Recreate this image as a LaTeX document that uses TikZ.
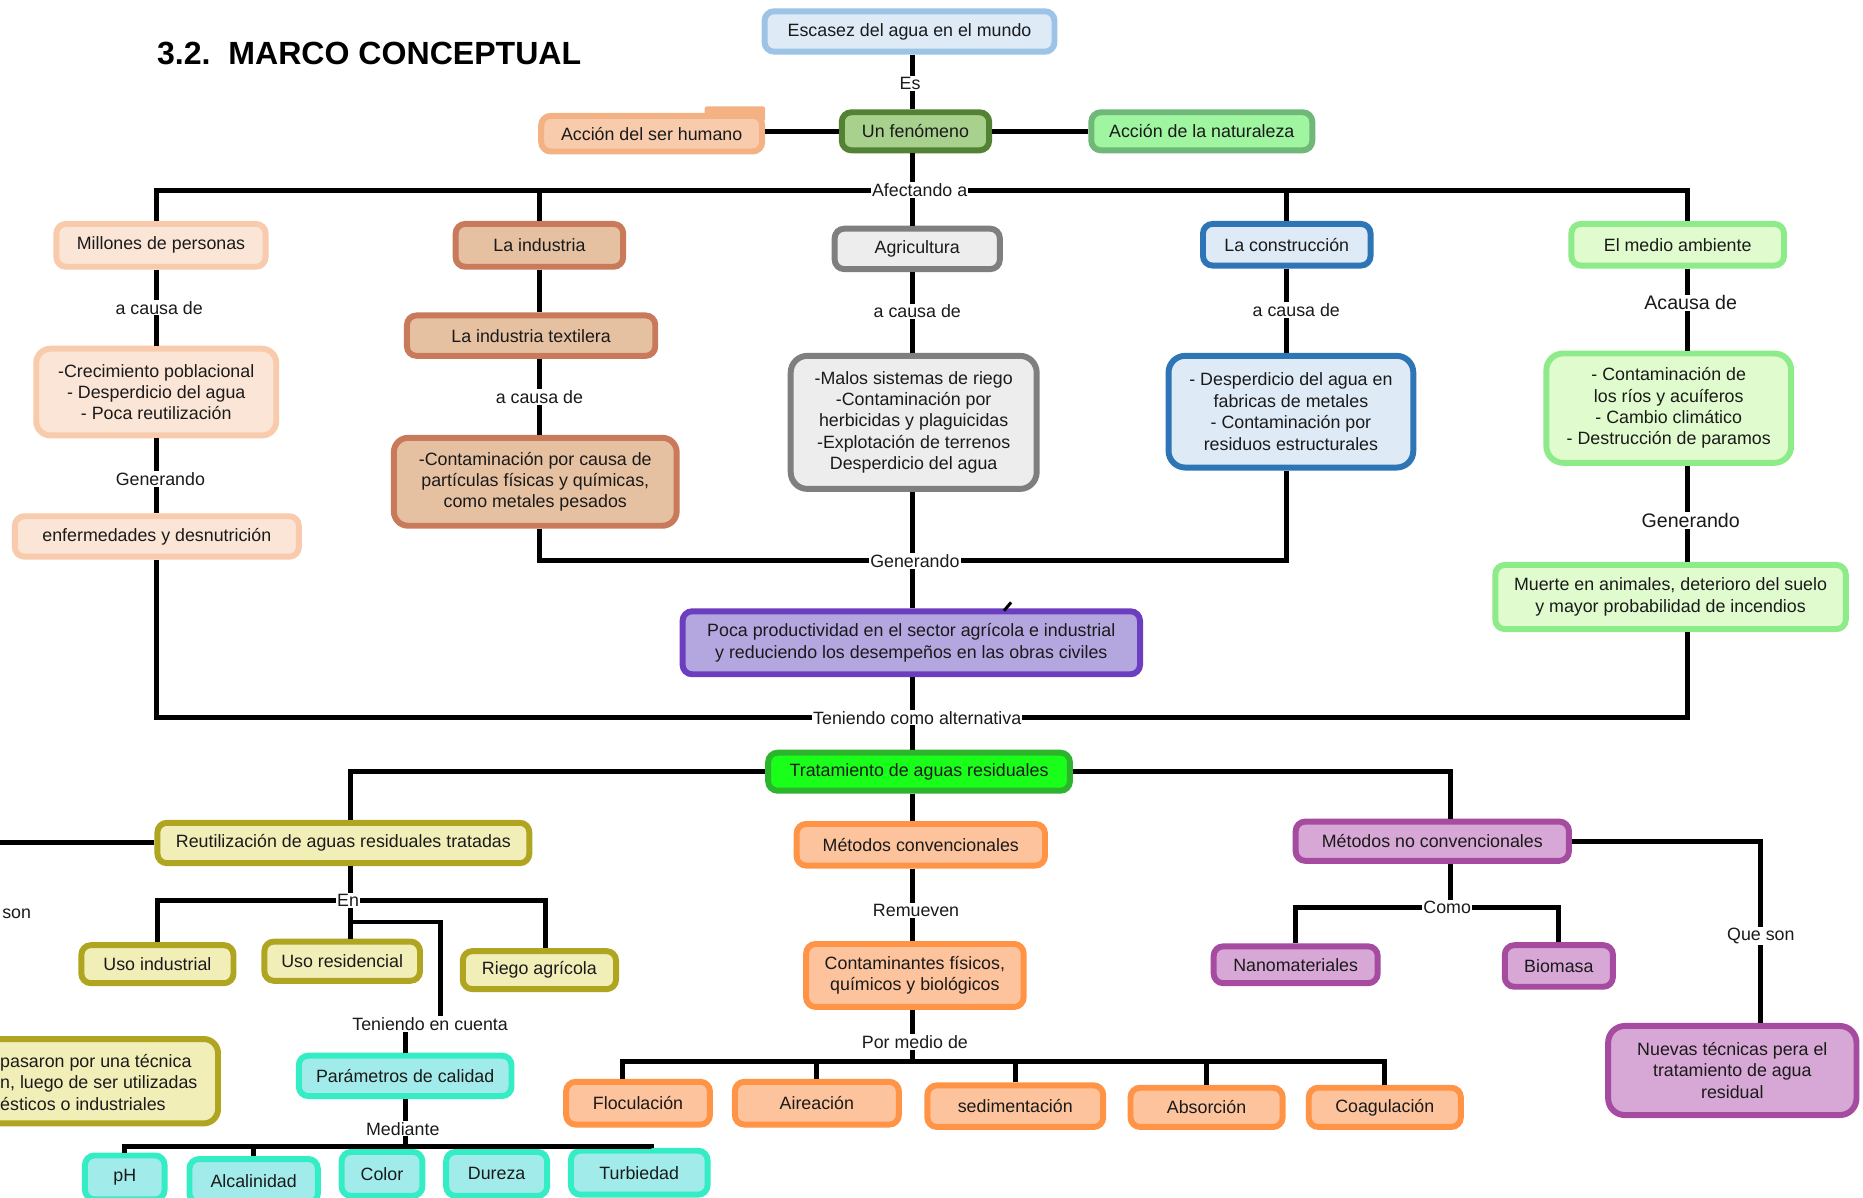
\documentclass[tikz,border=0pt]{standalone}
\usepackage{fontspec}
\setmainfont{Liberation Sans}
\definecolor{txt}{HTML}{1A1A1A}
\definecolor{escF}{HTML}{DEEAF6}\definecolor{escD}{HTML}{9DC3E6}
\definecolor{fenF}{HTML}{A9D18E}\definecolor{fenD}{HTML}{548235}
\definecolor{humF}{HTML}{F8CBAD}\definecolor{humD}{HTML}{F4B183}
\definecolor{natF}{HTML}{A0F5A0}\definecolor{natD}{HTML}{70B878}
\definecolor{milF}{HTML}{FBE5D6}\definecolor{milD}{HTML}{F8CBAD}
\definecolor{indF}{HTML}{E6C1A1}\definecolor{indD}{HTML}{C87A5A}
\definecolor{agrF}{HTML}{EDEDED}\definecolor{agrD}{HTML}{7F7F7F}
\definecolor{conF}{HTML}{DEEAF6}\definecolor{conD}{HTML}{2E75B6}
\definecolor{medF}{HTML}{E0FBCE}\definecolor{medD}{HTML}{8EEB8A}
\definecolor{pocF}{HTML}{B4A7E0}\definecolor{pocD}{HTML}{6A3EBE}
\definecolor{traF}{HTML}{1AFF1A}\definecolor{traD}{HTML}{2DB42D}
\definecolor{reuF}{HTML}{F1EEB8}\definecolor{reuD}{HTML}{AFA521}
\definecolor{ornF}{HTML}{FCC39C}\definecolor{ornD}{HTML}{FF9447}
\definecolor{ncvF}{HTML}{D7A7D6}\definecolor{ncvD}{HTML}{A54BA0}
\definecolor{calF}{HTML}{A2EBEB}\definecolor{calD}{HTML}{35EDC4}
\newcommand\myfs{\fontsize{15}{18}\selectfont}
\newcommand\mybig{\fontsize{16.5}{19}\selectfont}
\begin{document}
\begin{tikzpicture}[x=1pt,y=-1pt,
  box/.style={draw, rounded corners=8pt, line width=5pt, align=center, inner sep=0pt, text=txt, font=\myfs},
  conn/.style={line width=4.2pt, draw=black},
  lbl/.style={fill=white, inner sep=1pt, text=txt, font=\myfs},
  lblbig/.style={fill=white, inner sep=1pt, text=txt, font=\mybig}]
\useasboundingbox (0,0) rectangle (1568,1008);
\fill[white] (0,0) rectangle (1568,1008);
\clip (0,0) rectangle (1568,1008);

% title
\node[anchor=west, inner sep=0pt, font=\fontsize{27}{30}\selectfont\bfseries, text=black] (title) at (132,45) {3.2.\ \ MARCO CONCEPTUAL};

% junction coordinates
\coordinate (jEs) at (768,70);
\coordinate (jAf) at (768,160);
\coordinate (jGen) at (768,472);
\coordinate (jTen) at (768,604);
\coordinate (xR) at (1420,604);
\coordinate (jEn) at (295,758);
\coordinate (xRiego) at (459,758);
\coordinate (jTc) at (371,776);
\coordinate (jMed) at (341,965);
\coordinate (xTurb) at (548,965);
\coordinate (jPor) at (768,893);
\coordinate (xFl) at (524,893);
\coordinate (jComo) at (1221,764);
\coordinate (jQue) at (1482,788);
\coordinate (jLeft) at (0,709);

% nodes
\node[box, fill=escF, draw=escD, minimum width=244pt, minimum height=34pt] (escasez) at (765.5,26.5) {Escasez del agua en el mundo};
\node[box, fill=fenF, draw=fenD, minimum width=124pt, minimum height=32pt] (fenomeno) at (770.5,110.5) {Un fenómeno};
\fill[humD, rounded corners=2pt] (593,89.5) rectangle (644,102);
\node[box, fill=humF, draw=humD, minimum width=186pt, minimum height=30pt] (humano) at (548.5,112.5) {Acción del ser humano};
\node[box, fill=natF, draw=natD, minimum width=186pt, minimum height=32pt] (naturaleza) at (1011.5,110.5) {Acción de la naturaleza};

\node[box, fill=milF, draw=milD, minimum width=176pt, minimum height=36pt] (millones) at (135.5,206.5) {Millones de personas};
\node[box, fill=indF, draw=indD, minimum width=141pt, minimum height=36pt] (industria) at (454,206.5) {La industria};
\node[box, fill=agrF, draw=agrD, minimum width=139pt, minimum height=34pt] (agricultura) at (772,209.5) {Agricultura};
\node[box, fill=conF, draw=conD, minimum width=141pt, minimum height=35pt] (construccion) at (1083,206) {La construcción};
\node[box, fill=medF, draw=medD, minimum width=179pt, minimum height=35pt] (medio) at (1412,206) {El medio ambiente};

\node[box, fill=milF, draw=milD, minimum width=202pt, minimum height=73pt, rounded corners=12pt] (millCaus) at (131.5,330) {-Crecimiento poblacional\\- Desperdicio del agua\\- Poca reutilización};
\node[box, fill=milF, draw=milD, minimum width=239pt, minimum height=34pt] (enferm) at (132,451.5) {enfermedades y desnutrición};
\node[box, fill=indF, draw=indD, minimum width=209pt, minimum height=34pt] (textil) at (447,282.5) {La industria textilera};
\node[box, fill=indF, draw=indD, minimum width=238pt, minimum height=74pt, rounded corners=12pt] (contam) at (450.5,405.5) {-Contaminación por causa de\\partículas físicas y químicas,\\como metales pesados};
\node[box, fill=agrF, draw=agrD, minimum width=207pt, minimum height=112pt, rounded corners=14pt] (agriCaus) at (769,355.5) {-Malos sistemas de riego\\-Contaminación por\\herbicidas y plaguicidas\\-Explotación de terrenos\\Desperdicio del agua};
\node[box, fill=conF, draw=conD, minimum width=206pt, minimum height=94pt, rounded corners=14pt] (constCaus) at (1086.5,346.5) {- Desperdicio del agua en\\fabricas de metales\\- Contaminación por\\residuos estructurales};
\node[box, fill=medF, draw=medD, minimum width=206pt, minimum height=92pt, rounded corners=14pt] (medioCaus) at (1404.5,343.5) {- Contaminación de\\los ríos y acuíferos\\- Cambio climático\\- Destrucción de paramos};
\node[box, fill=medF, draw=medD, minimum width=295pt, minimum height=54pt] (muerte) at (1406,502.5) {Muerte en animales, deterioro del suelo\\y mayor probabilidad de incendios};
\node[box, fill=pocF, draw=pocD, minimum width=385pt, minimum height=53pt] (poca) at (767,541) {Poca productividad en el sector agrícola e industrial\\y reduciendo los desempeños en las obras civiles};
\node[box, fill=traF, draw=traD, minimum width=254pt, minimum height=32pt] (trat) at (773.5,649.5) {Tratamiento de aguas residuales};

\node[box, fill=reuF, draw=reuD, minimum width=313pt, minimum height=34pt] (reutil) at (289,709.5) {Reutilización de aguas residuales tratadas};
\node[box, fill=reuF, draw=reuD, minimum width=128pt, minimum height=32pt] (usoind) at (132.5,811.5) {Uso industrial};
\node[box, fill=reuF, draw=reuD, minimum width=131pt, minimum height=33pt] (usores) at (288,809) {Uso residencial};
\node[box, fill=reuF, draw=reuD, minimum width=129pt, minimum height=32pt] (riego) at (454,816.5) {Riego agrícola};
\node[box, fill=reuF, draw=reuD, minimum width=331pt, minimum height=71pt, rounded corners=12pt] (leftbox) at (18,910) {};
\node[anchor=west, align=left, inner sep=0pt, font=\myfs, text=txt] (leftTxt) at (0,911) {pasaron por una técnica\\n, luego de ser utilizadas\\ésticos o industriales};

\node[box, fill=calF, draw=calD, minimum width=179pt, minimum height=34pt] (param) at (341,905.5) {Parámetros de calidad};
\node[box, fill=calF, draw=calD, minimum width=67pt, minimum height=37pt] (ph) at (105,991) {pH};
\node[box, fill=calF, draw=calD, minimum width=108pt, minimum height=37pt] (alcal) at (213.5,994) {Alcalinidad};
\node[box, fill=calF, draw=calD, minimum width=68pt, minimum height=37pt] (color) at (321.5,988) {Color};
\node[box, fill=calF, draw=calD, minimum width=85pt, minimum height=37pt] (dureza) at (418,988) {Dureza};
\node[box, fill=calF, draw=calD, minimum width=115pt, minimum height=37pt] (turb) at (538,987) {Turbiedad};

\node[box, fill=ornF, draw=ornD, minimum width=209pt, minimum height=35pt] (conv) at (775,711) {Métodos convencionales};
\node[box, fill=ornF, draw=ornD, minimum width=183pt, minimum height=53pt] (contamin) at (770,821) {Contaminantes físicos,\\químicos y biológicos};
\node[box, fill=ornF, draw=ornD, minimum width=121pt, minimum height=36pt] (flocul) at (537,928.5) {Floculación};
\node[box, fill=ornF, draw=ornD, minimum width=138pt, minimum height=36pt] (airea) at (687.5,928.5) {Aireación};
\node[box, fill=ornF, draw=ornD, minimum width=148pt, minimum height=35pt] (sedim) at (854.5,931) {sedimentación};
\node[box, fill=ornF, draw=ornD, minimum width=128pt, minimum height=33pt] (absor) at (1015.5,932) {Absorción};
\node[box, fill=ornF, draw=ornD, minimum width=128pt, minimum height=33pt] (coag) at (1165.5,932) {Coagulación};

\node[box, fill=ncvF, draw=ncvD, minimum width=230pt, minimum height=33pt] (noconv) at (1205.5,708) {Métodos no convencionales};
\node[box, fill=ncvF, draw=ncvD, minimum width=138pt, minimum height=31pt] (nano) at (1090.5,812) {Nanomateriales};
\node[box, fill=ncvF, draw=ncvD, minimum width=91pt, minimum height=35pt] (biomasa) at (1312,813) {Biomasa};
\node[box, fill=ncvF, draw=ncvD, minimum width=209pt, minimum height=75pt, rounded corners=14pt] (nuevas) at (1458,901) {Nuevas técnicas pera el\\tratamiento de agua\\residual};

\node[lbl] (lTc) at (362,862) {Teniendo en cuenta};

% connectors
\draw[conn] (escasez.south -| jEs) -- (fenomeno.north -| jEs);
\draw[conn] (fenomeno.west) -- (fenomeno.west -| humano.east);
\draw[conn] (fenomeno.east) -- (naturaleza.west);
\draw[conn] (fenomeno.south -| jAf) -- (agricultura.north -| jAf);
\draw[conn] (millones.north -| millCaus.north) |- (jAf) -| (medio.north -| xR);
\draw[conn] (industria.north) -- (industria.north |- jAf);
\draw[conn] (construccion.north) -- (construccion.north |- jAf);

\draw[conn] (millones.south -| millCaus.north) -- (millCaus.north);
\draw[conn] (millCaus.south) -- (millCaus.south |- enferm.north);
\draw[conn] (enferm.south -| millCaus.south) |- (jTen) -| (muerte.south -| xR);

\draw[conn] (industria.south) -- (industria.south |- textil.north);
\draw[conn] (textil.south -| industria.south) -- (contam.north -| industria.south);
\draw[conn] (contam.south -| industria.south) |- (jGen) -| (constCaus.south -| construccion.south);

\draw[conn] (agricultura.south -| jAf) -- (agriCaus.north -| jAf);
\draw[conn] (agriCaus.south -| jAf) -- (poca.north -| jAf);
\draw[conn] (construccion.south) -- (constCaus.north -| construccion.south);
\draw[conn] (medio.south -| xR) -- (medioCaus.north -| xR);
\draw[conn] (medioCaus.south -| xR) -- (muerte.north -| xR);
\draw[line width=2.5pt] (845,514) -- (851,507);

\draw[conn] (poca.south -| jTen) -- (trat.north -| jTen);
\draw[conn] (trat.west) -| (reutil.north -| jEn);
\draw[conn] (trat.east) -| (noconv.north -| jComo);
\draw[conn] (trat.south -| jTen) -- (conv.north -| jTen);

\draw[conn] (reutil.west) -- (reutil.west -| jLeft);
\draw[conn] (reutil.south -| jEn) -- (usores.north -| jEn);
\draw[conn] (usoind.north) |- (jEn) -| (riego.north -| xRiego);
\draw[conn] (jEn |- jTc) -| (lTc.north -| jTc);
\draw[conn] (lTc.south -| param.north) -- (param.north);

\draw[conn] (param.south) -- (param.south |- jMed);
\draw[conn] (ph.north) |- (jMed) -| (turb.north -| xTurb);
\draw[conn] (alcal.north) -- (alcal.north |- jMed);
\draw[conn] (color.north) -- (color.north |- jMed);
\draw[conn] (dureza.north) -- (dureza.north |- jMed);

\draw[conn] (conv.south -| jTen) -- (contamin.north -| jTen);
\draw[conn] (contamin.south -| jTen) -- (jPor);
\draw[conn] (flocul.north -| xFl) |- (jPor) -| (coag.north);
\draw[conn] (airea.north) -- (airea.north |- jPor);
\draw[conn] (sedim.north) -- (sedim.north |- jPor);
\draw[conn] (absor.north) -- (absor.north |- jPor);

\draw[conn] (noconv.south -| jComo) -- (jComo);
\draw[conn] (nano.north) |- (jComo) -| (biomasa.north);
\draw[conn] (noconv.east) -| (nuevas.north -| jQue);

% labels
\node[lbl] (lEs) at (766,70) {Es};
\node[lbl] (lAf) at (774,160) {Afectando a};
\node[lbl] (lC1) at (134,259) {a causa de};
\node[lbl] (lG1) at (135,403) {Generando};
\node[lbl] (lC2) at (454,334) {a causa de};
\node[lbl] (lC3) at (772,262) {a causa de};
\node[lbl] (lC4) at (1091,261) {a causa de};
\node[lblbig] (lC5) at (1423,255) {Acausa de};
\node[lblbig] (lG3) at (1423,438) {Generando};
\node[lbl] (lG2) at (770,472) {Generando};
\node[lbl] (lTen) at (772,604) {Teniendo como alternativa};
\node[lbl] (lEn) at (293,758) {En};
\node[lbl] (lSon) at (14,769) {son};
\node[lbl] (lMed) at (339,950) {Mediante};
\node[lbl] (lRem) at (771,766) {Remueven};
\node[lbl] (lPor) at (770,877) {Por medio de};
\node[lbl] (lComo) at (1218,764) {Como};
\node[lbl] (lQue) at (1482,788) {Que son};
\end{tikzpicture}
\end{document}
